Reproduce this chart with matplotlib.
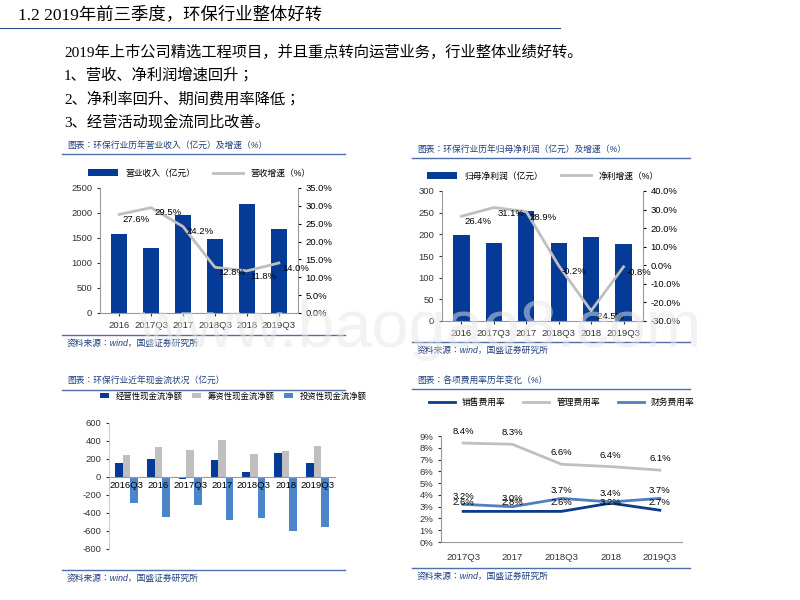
import matplotlib
matplotlib.use("Agg")
import matplotlib.pyplot as plt
from matplotlib import font_manager as fm
import numpy as np
from matplotlib.ticker import FuncFormatter

names = []
for f in fm.findSystemFonts():
    if "cjk" in f.lower():
        try:
            fm.fontManager.addfont(f)
            names.append(fm.FontProperties(fname=f).get_name())
        except Exception:
            pass
sans = [n for n in names if "Sans" in n and "SC" in n] + [n for n in names if "Sans" in n] + ["Noto Sans CJK SC"]
serif = [n for n in names if "Serif" in n and "SC" in n] + sans
CJK_SANS = sans[0]
CJK_SERIF = serif[0]
plt.rcParams["font.family"] = ["Liberation Sans", CJK_SANS, "DejaVu Sans"]
plt.rcParams["axes.unicode_minus"] = False
SERIF = ["Liberation Serif", CJK_SERIF]

# data
c1_cats = ["2016", "2017Q3", "2017", "2018Q3", "2018", "2019Q3"]
c1_rev = [1580, 1300, 1950, 1470, 2180, 1680]
c1_g = [27.6, 29.5, 24.2, 12.8, 11.8, 14.0]
c2_cats = ["2016", "2017Q3", "2017", "2018Q3", "2018", "2019Q3"]
c2_np = [198, 180, 255, 180, 193, 178]
c2_g = [26.4, 31.1, 28.9, -0.2, -24.5, -0.8]
c3_cats = ["2016Q3", "2016", "2017Q3", "2017", "2018Q3", "2018", "2019Q3"]
c3_op = [160, 200, -25, 185, 60, 265, 160]
c3_fin = [245, 335, 295, 410, 255, 285, 340]
c3_inv = [-290, -440, -315, -475, -450, -600, -555]
c4_cats = ["2017Q3", "2017", "2018Q3", "2018", "2019Q3"]
c4_sell = [2.6, 2.6, 2.6, 3.3, 2.7]
c4_sell_lbl = [2.6, 2.8, 2.6, 3.2, 2.7]
c4_adm = [8.4, 8.3, 6.6, 6.4, 6.1]
c4_fin = [3.2, 3.0, 3.7, 3.4, 3.7]

W, H = 800, 600
fig = plt.figure(figsize=(8, 6), dpi=100)
fig.patch.set_facecolor("white")

def ax_px(x0, y0, x1, y1):
    return fig.add_axes([x0 / W, 1 - y1 / H, (x1 - x0) / W, (y1 - y0) / H])

def txt(x, y, s, **kw):
    fig.text(x / W, 1 - y / H, s, **kw)

def hline(x0, x1, y, color="#4f6fa8", lw=1):
    fig.add_artist(plt.Line2D([x0 / W, x1 / W], [1 - y / H, 1 - y / H], color=color, lw=lw))

BLUE = "#053A97"
GRAY = "#BFBFBF"
LBLUE = "#4A86C8"
TS = 6.8

txt(18, 15, "1.2 2019年前三季度，环保行业整体好转", fontsize=12.5, va="center", family=SERIF)
hline(0, 560, 28, color="#2f4f8f", lw=0.8)
lines = ["2019年上市公司精选工程项目，并且重点转向运营业务，行业整体业绩好转。",
         "1、营收、净利润增速回升；", "2、净利率回升、期间费用率降低；", "3、经营活动现金流同比改善。"]
for i, l in enumerate(lines):
    txt(64, 52 + i * 23.5, l, fontsize=11, va="center", family=SERIF)

txt(420, 330, "www.baogao8.com", fontsize=48, color="#e6e6e6", ha="center", va="center", alpha=0.5, zorder=10)

def frame(x0, x1, ytitle, ysrc, title):
    txt(x0 + 5, ytitle, title, fontsize=6.3, style="italic", color="#1f3f7f", va="center")
    hline(x0, x1, ytitle + 9)
    hline(x0, x1, ysrc - 8)
    txt(x0 + 5, ysrc, "资料来源：wind，国盛证券研究所", fontsize=6.3, style="italic", color="#1f3f7f", va="center")

def style(ax):
    for s in ["top", "right"]:
        ax.spines[s].set_visible(False)
    ax.spines["left"].set_color("#999999")
    ax.spines["bottom"].set_color("#999999")
    ax.tick_params(labelsize=TS, length=2, colors="#333333")

def pct_axis(ax2):
    ax2.yaxis.set_major_formatter(FuncFormatter(lambda v, p: f"{v:.1f}%"))
    for s in ["top", "left", "bottom"]:
        ax2.spines[s].set_visible(False)
    ax2.spines["right"].set_color("#999999")
    ax2.tick_params(labelsize=TS, length=2)

frame(62, 345, 145, 343, "图表：环保行业历年营业收入（亿元）及增速（%）")
ax = ax_px(100, 188, 298, 313)
x = np.arange(len(c1_cats))
ax.bar(x, c1_rev, width=0.5, color=BLUE, label="营业收入（亿元）")
ax.set_ylim(0, 2500); ax.set_yticks(range(0, 2501, 500))
ax.set_xticks(x); ax.set_xticklabels(c1_cats)
ax.set_xlim(-0.6, 5.6)
style(ax)
ax2 = ax.twinx()
ax2.plot(x, c1_g, color=GRAY, lw=2, label="营收增速（%）")
ax2.set_ylim(0, 35); ax2.set_yticks(range(0, 36, 5))
pct_axis(ax2)
for xi, v in zip(x, c1_g):
    ax2.text(xi + 0.1, v - 1.5, f"{v:.1f}%", fontsize=TS, ha="left", va="center")
h1, l1 = ax.get_legend_handles_labels(); h2, l2 = ax2.get_legend_handles_labels()
ax.legend(h1 + h2, l1 + l2, loc="lower center", bbox_to_anchor=(0.5, 1.02), ncol=2, frameon=False, fontsize=6.3, handlelength=3.5)

frame(412, 690, 149, 350, "图表：环保行业历年归母净利润（亿元）及增速（%）")
ax = ax_px(442, 191, 643, 321)
x = np.arange(len(c2_cats))
ax.bar(x, c2_np, width=0.5, color=BLUE, label="归母净利润（亿元）")
ax.set_ylim(0, 300); ax.set_yticks(range(0, 301, 50))
ax.set_xticks(x); ax.set_xticklabels(c2_cats)
ax.set_xlim(-0.6, 5.6)
style(ax)
ax2 = ax.twinx()
ax2.plot(x, c2_g, color=GRAY, lw=2, label="净利增速（%）")
ax2.set_ylim(-30, 40); ax2.set_yticks(range(-30, 41, 10))
pct_axis(ax2)
for xi, v in zip(x, c2_g):
    ax2.text(xi + 0.1, v - 3, f"{v:.1f}%", fontsize=TS, ha="left", va="center")
h1, l1 = ax.get_legend_handles_labels(); h2, l2 = ax2.get_legend_handles_labels()
ax.legend(h1 + h2, l1 + l2, loc="lower center", bbox_to_anchor=(0.5, 1.02), ncol=2, frameon=False, fontsize=6.3, handlelength=3.5)

frame(62, 345, 381, 578, "图表：环保行业近年现金流状况（亿元）")
ax = ax_px(109, 423, 335, 549)
x = np.arange(len(c3_cats))
w = 0.24
ax.bar(x - w, c3_op, width=w, color=BLUE, label="经营性现金流净额")
ax.bar(x, c3_fin, width=w, color=GRAY, label="筹资性现金流净额")
ax.bar(x + w, c3_inv, width=w, color=LBLUE, label="投资性现金流净额")
ax.set_ylim(-800, 600); ax.set_yticks(range(-800, 601, 200))
ax.set_xlim(-0.55, 6.55)
ax.set_xticks(x); ax.set_xticklabels([])
for xi, c in zip(x, c3_cats):
    ax.text(xi, -40, c, fontsize=TS, ha="center", va="top")
style(ax)
ax.spines["bottom"].set_position(("data", 0))
ax.spines["left"].set_color("#cccccc")
ax.tick_params(axis="x", length=0)
ax.legend(loc="lower center", bbox_to_anchor=(0.55, 1.12), ncol=3, frameon=False, fontsize=6, handlelength=1, columnspacing=1.2)

frame(412, 690, 380, 576, "图表：各项费用率历年变化（%）")
ax = ax_px(441, 436, 682, 542)
x = np.arange(len(c4_cats))
ax.plot(x, c4_sell, color="#0B3C8C", lw=2, label="销售费用率")
ax.plot(x, c4_adm, color=GRAY, lw=2, label="管理费用率")
ax.plot(x, c4_fin, color="#4F7FBF", lw=2, label="财务费用率")
ax.set_ylim(0, 9); ax.set_yticks(range(0, 10))
ax.yaxis.set_major_formatter(FuncFormatter(lambda v, p: f"{v:.0f}%"))
ax.set_xlim(-0.45, 4.45)
ax.set_xticks(x); ax.set_xticklabels(c4_cats)
style(ax)
ax.tick_params(axis="x", length=0, pad=8)
for xi, v in zip(x, c4_adm):
    ax.text(xi, v + 0.6, f"{v:.1f}%", fontsize=TS, ha="center", va="bottom")
for xi, v in zip(x, c4_fin):
    ax.text(xi, v + 0.3, f"{v:.1f}%", fontsize=TS, ha="center", va="bottom")
for xi, v in zip(x, c4_sell_lbl):
    ax.text(xi, 3.35, f"{v:.1f}%", fontsize=TS, ha="center", va="center")
ax.legend(loc="lower center", bbox_to_anchor=(0.5, 1.2), ncol=3, frameon=False, fontsize=6.3, handlelength=3)

fig.savefig("out.png", dpi=100)
